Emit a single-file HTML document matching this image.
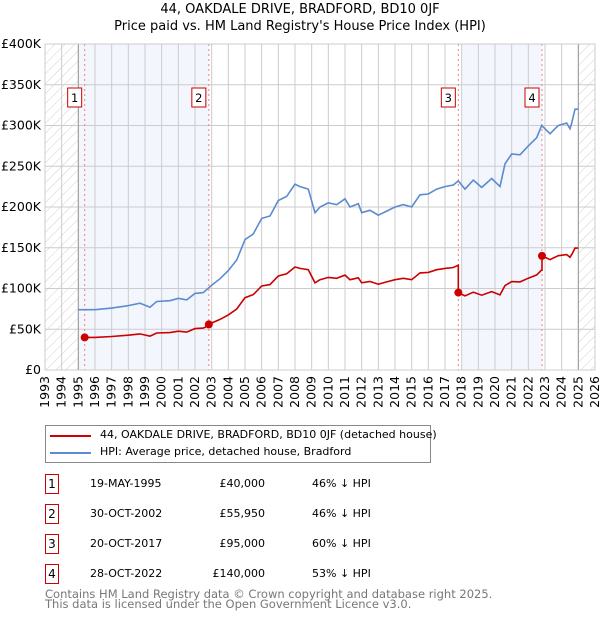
<!DOCTYPE html>
<html><head><meta charset="utf-8"><style>
body{margin:0;background:#fff;font-family:"DejaVu Sans","Liberation Sans",sans-serif;}
#wrap{position:relative;width:600px;height:620px;overflow:hidden;}
.t{position:absolute;font-size:12px;color:#000;white-space:nowrap;}
.box{position:absolute;width:12px;height:18px;border:1px solid #c00;font-size:12px;text-align:center;line-height:18px;}
</style></head><body><div id="wrap">
<div class="t" style="left:0;width:600px;text-align:center;top:1px;font-size:13px;line-height:17px">44, OAKDALE DRIVE, BRADFORD, BD10 0JF<br>Price paid vs. HM Land Registry's House Price Index (HPI)</div>
<svg id="chart" width="600" height="420" style="position:absolute;left:0;top:0"></svg>
<div style="position:absolute;left:45px;top:425px;width:384px;height:36px;border:1px solid #888;"></div>
<div style="position:absolute;left:50px;top:435px;width:41px;height:2px;background:#c00"></div>
<div class="t" style="left:100px;top:428px;font-size:11px">44, OAKDALE DRIVE, BRADFORD, BD10 0JF (detached house)</div>
<div style="position:absolute;left:50px;top:452px;width:41px;height:2px;background:#5b8bd0"></div>
<div class="t" style="left:100px;top:445px;font-size:11px">HPI: Average price, detached house, Bradford</div>
<div id="tbl"></div>
<div class="t" style="left:45px;top:589px;color:#777;font-size:11.5px;line-height:10px">Contains HM Land Registry data © Crown copyright and database right 2025.<br>This data is licensed under the Open Government Licence v3.0.</div>
</div>
<script>
const hpiYears=[1995.0,1996,1997,1998,1998.7,1999.3,1999.7,2000.5,2001,2001.5,2002,2002.5,2003,2003.5,2004,2004.5,2005,2005.5,2006,2006.5,2007,2007.5,2008,2008.3,2008.8,2009.2,2009.5,2010,2010.5,2011,2011.3,2011.8,2012,2012.5,2013,2013.5,2014,2014.5,2015,2015.5,2016,2016.5,2017,2017.5,2017.8,2018.2,2018.7,2019.2,2019.8,2020.3,2020.6,2021,2021.5,2022,2022.5,2022.8,2023.3,2023.8,2024.3,2024.5,2024.6,2024.8,2025.0];
const hpiValues=[74,74,76,79,82,77,84,85,88,86,94,95,104,112,122,135,160,167,186,189,208,213,228,225,222,193,200,205,203,210,200,204,193,196,190,195,200,203,200,215,216,222,225,227,232,222,233,224,235,225,253,265,264,275,285,300,290,300,303,296,303,320,320];
const saleYears=[1995.38,2002.83,2017.8,2022.82];
const salePrices=[40000,55950,95000,140000];
const saleLabels=["1","2","3","4"];
const saleDates=["19-MAY-1995","30-OCT-2002","20-OCT-2017","28-OCT-2022"];
const salePriceText=["£40,000","£55,950","£95,000","£140,000"];
const salePct=["46% ↓ HPI","46% ↓ HPI","60% ↓ HPI","53% ↓ HPI"];
const yTicks=[0,50,100,150,200,250,300,350,400];
const yTickLabels=["£0","£50K","£100K","£150K","£200K","£250K","£300K","£350K","£400K"];

const X0=45,X1=595,Y0=370,Y1=44;
const xs=y=>X0+(y-1993)/(2026-1993)*(X1-X0);
const ys=v=>Y0-v/400*(Y0-Y1);
const NS="http://www.w3.org/2000/svg";
const svg=document.getElementById('chart');
function mk(tag,attrs,parent){const e=document.createElementNS(NS,tag);for(const k in attrs)e.setAttribute(k,attrs[k]);(parent||svg).appendChild(e);return e;}
function hpiAt(y){for(let i=0;i<hpiYears.length-1;i++){if(y>=hpiYears[i]&&y<=hpiYears[i+1]){const f=(y-hpiYears[i])/(hpiYears[i+1]-hpiYears[i]);return hpiValues[i]+f*(hpiValues[i+1]-hpiValues[i]);}}return hpiValues[hpiValues.length-1];}
const defs=mk('defs',{});
const pat=mk('pattern',{id:'hatch',width:7,height:7,patternUnits:'userSpaceOnUse',patternTransform:'rotate(45)'},defs);
mk('line',{x1:0,y1:0,x2:0,y2:7,stroke:'#d0d0d0','stroke-width':1},pat);
let r=mk('rect',{x:xs(1995),y:Y1,width:xs(saleYears[1])-xs(1995),height:Y0-Y1,fill:'#f3f6fd'});

r=mk('rect',{x:xs(2018),y:Y1,width:xs(saleYears[3])-xs(2018),height:Y0-Y1,fill:'#f3f6fd'});

r=mk('rect',{x:X0,y:Y1,width:xs(1995)-X0,height:Y0-Y1,fill:'url(#hatch)'});

r=mk('rect',{x:xs(2025),y:Y1,width:X1-xs(2025),height:Y0-Y1,fill:'url(#hatch)'});

for(let i=0;i<yTicks.length;i++){const y=ys(yTicks[i]);
 const l=mk('line',{x1:X0,x2:X1,y1:y,y2:y,stroke:'#ccc'});
 const t=mk('text',{x:X0-4,y:y+4,'text-anchor':'end','font-size':12.5,fill:'#000'});t.textContent=yTickLabels[i];
 }
for(let yr=1993;yr<=2026;yr++){const x=xs(yr);
 const l=mk('line',{x1:x,x2:x,y1:Y1,y2:Y0,stroke:'#ccc'});
 const t=mk('text',{x:0,y:0,'text-anchor':'end','font-size':12.5,fill:'#000',transform:`translate(${x+4},${Y0+6}) rotate(-90)`});t.textContent=yr;
 }
let b=mk('line',{x1:xs(1995),x2:xs(1995),y1:Y1,y2:Y0,stroke:'#999'});
b=mk('line',{x1:xs(2025),x2:xs(2025),y1:Y1,y2:Y0,stroke:'#999'});
for(let i=0;i<saleYears.length;i++){const x=xs(saleYears[i]);
 const l=mk('line',{x1:x,x2:x,y1:Y1,y2:Y0,stroke:'#f08080','stroke-dasharray':'2,3'});
 }
let d=hpiYears.map((y,i)=>(i?'L':'M')+xs(y).toFixed(1)+','+ys(hpiValues[i]).toFixed(1)).join('');
const hp=mk('path',{d,fill:'none',stroke:'#5b8bd0','stroke-width':1.6});

const lastY=hpiYears[hpiYears.length-1];
const pts=[];
for(let s=0;s<saleYears.length;s++){
 const ratio=salePrices[s]/1000/hpiAt(saleYears[s]);
 const end=s<saleYears.length-1?saleYears[s+1]:lastY;
 pts.push([saleYears[s],salePrices[s]/1000]);
 hpiYears.forEach((y,i)=>{if(y>saleYears[s]&&y<end)pts.push([y,hpiValues[i]*ratio]);});
 pts.push([end,hpiAt(end)*ratio]);
}
d=pts.map((p,i)=>(i?'L':'M')+xs(p[0]).toFixed(1)+','+ys(p[1]).toFixed(1)).join('');
const pp=mk('path',{d,fill:'none',stroke:'#cc0000','stroke-width':1.6});

for(let i=0;i<saleYears.length;i++){
 const c=mk('circle',{cx:xs(saleYears[i]),cy:ys(salePrices[i]/1000),r:4,fill:'#cc0000'});
 
 const g=mk('g',{});
 
 const x=xs(saleYears[i]);
 mk('rect',{x:x-17,y:88,width:14,height:19,fill:'#fff',stroke:'#c00'},g);
 const t=mk('text',{x:x-10,y:102,'text-anchor':'middle','font-size':11.5},g);t.textContent=saleLabels[i];
}
mk('rect',{x:X0,y:Y1,width:X1-X0,height:Y0-Y1,fill:'none',stroke:'#ccc'});
const tbl=document.getElementById('tbl');
const rowsY=[474,504,534,564];
for(let i=0;i<saleDates.length;i++){
 const y=rowsY[i];
 const bx=document.createElement('div');bx.className='box';bx.style.left='45px';bx.style.top=y+'px';bx.textContent=saleLabels[i];
 
 
 tbl.appendChild(bx);
 const a=document.createElement('div');a.className='t';a.style.left='90px';a.style.top=(y+3)+'px';a.style.fontSize='11px';a.textContent=saleDates[i];
 
 
 tbl.appendChild(a);
 const p=document.createElement('div');p.className='t';p.style.left='165px';p.style.width='100px';p.style.textAlign='right';p.style.top=(y+3)+'px';p.style.fontSize='11px';p.textContent=salePriceText[i];
 
 
 tbl.appendChild(p);
 const h=document.createElement('div');h.className='t';h.style.left='312px';h.style.top=(y+3)+'px';h.style.fontSize='11px';h.textContent=salePct[i];
 
 
 tbl.appendChild(h);
}
</script></body></html>
